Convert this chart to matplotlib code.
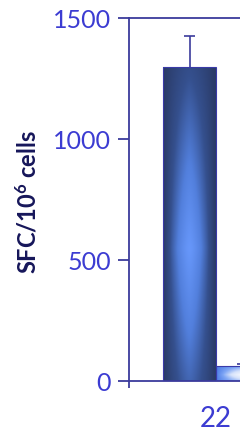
import numpy as np
import matplotlib.pyplot as plt
from matplotlib.colors import LinearSegmentedColormap

# data
groups = ["22"]
series_a = [1300]      # first bar in group
series_a_err = [125]
series_b = [62]        # second bar in group (cropped on the right)
series_b_err = [8]
yticks = [0, 500, 1000, 1500]

SPINE = "#3b3b9c"
TICKLBL = "#3c3cd2"
YLAB = "#16165a"

plt.rcParams['font.family'] = ['Lato', 'DejaVu Sans']
plt.rcParams['mathtext.fontset'] = 'custom'
plt.rcParams['mathtext.rm'] = 'Lato'
plt.rcParams['mathtext.bf'] = 'Lato:bold'
plt.rcParams['mathtext.default'] = 'bf'

fig = plt.figure(figsize=(2.4, 4.32), dpi=100)
ax = fig.add_axes([0.5375, 0.118, 1.2, 0.84])

width = 0.4
x = np.arange(len(groups))
bars_a = ax.bar(x - width / 2, series_a, width, color='none', edgecolor='#3a3aa8', linewidth=0.8, zorder=3)
bars_b = ax.bar(x + width / 2, series_b, width, color='none', edgecolor='#3a3aa8', linewidth=0.8, zorder=3)

# upper-only error bars
cap = 0.04
for xs, vals, errs in [(x - width / 2, series_a, series_a_err), (x + width / 2, series_b, series_b_err)]:
    tops = np.array(vals) + np.array(errs)
    ax.vlines(xs, vals, tops, color=SPINE, linewidth=1.2, zorder=1)
    ax.hlines(tops, xs - cap, xs + cap, color=SPINE, linewidth=1.2, zorder=1)

# gradient fills clipped to each bar
cm_dark = LinearSegmentedColormap.from_list('d', ['#2a3a66', '#35508e', '#527fdc', '#6797fa'])
cm_light = LinearSegmentedColormap.from_list('l', ['#4e7de6', '#7fa6f5', '#d6e2fb', '#f4f7fe'])

def fill_gradient(bars, cmap):
    for b in bars:
        x0, y0 = b.get_x(), b.get_y()
        w, h = b.get_width(), b.get_height()
        u = np.linspace(-1, 1, 60)
        v = np.linspace(0, 1, 100)
        U, V = np.meshgrid(u, v)
        horiz = 1 - np.abs(U) ** 1.4
        vert = 1 - 0.7 * np.abs(V - 0.42) / 0.58
        img = np.clip(horiz * vert, 0, 1)
        im = ax.imshow(img, cmap=cmap, vmin=0, vmax=1, origin='lower', aspect='auto',
                       extent=[x0, x0 + w, y0, y0 + h], zorder=2, interpolation='bilinear')
        im.set_clip_path(b)

fill_gradient(bars_a, cm_dark)
fill_gradient(bars_b, cm_light)

ax.set_xlim(-0.657, 1.517)
ax.set_ylim(0, 1500)
ax.set_yticks(yticks)
ax.set_xticks([-0.657])
ax.set_xticklabels([''])
for i, g in enumerate(groups):
    ax.annotate(g, xy=(x[i], 0), xytext=(-0.5, -27), textcoords='offset points',
                ha='center', va='center', fontsize=20, color=TICKLBL)

for s in ['left', 'top', 'bottom']:
    ax.spines[s].set_color(SPINE)
    ax.spines[s].set_linewidth(1.3)
ax.spines['right'].set_visible(False)
ax.tick_params(axis='y', colors=SPINE, labelcolor=TICKLBL, labelsize=18, length=8, width=1.3, pad=5)
ax.tick_params(axis='x', colors=SPINE, length=5, width=1.3)

fig.text(28 / 240, 1 - 202 / 432, "SFC/10$^{6}$ cells", rotation=90, ha='center', va='center',
         fontsize=17, fontweight='bold', color=YLAB)

fig.savefig('out.png', dpi=100)
